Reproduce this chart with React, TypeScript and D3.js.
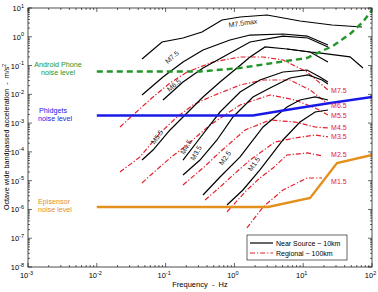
import React from 'react';
import * as d3 from 'd3';

const W = 378;
const H = 292;
const M = { left: 28, right: 6, top: 8, bottom: 25 };

// sensor noise levels
const androidFreq = [0.01, 0.316, 1.2, 3.64, 11.3, 27.1, 47.9, 74, 100];
const androidAcc = [0.062, 0.062, 0.082, 0.123, 0.183, 0.48, 1.25, 3.3, 8.5];
const phidgetsFreq = [0.01, 1.86, 5.09, 22.2, 100];
const phidgetsAcc = [0.00184, 0.00184, 0.00274, 0.0048, 0.0081];
const episensorFreq = [0.01, 3.08, 12.6, 31, 100];
const episensorAcc = [1.22e-6, 1.22e-6, 2.5e-6, 4.1e-5, 7.8e-5];

// near source (~10 km) spectra
const nsNames = ['M7.5max', 'M7.5', 'M6.5', 'M5.5', 'M4.5', 'M3.5', 'M2.5', 'M1.5'];
const nsFreq = [
  [0.0454, 0.0887, 0.179, 0.338, 0.661, 1.21, 2.98, 8.98, 26.2, 71.6],
  [0.0454, 0.0916, 0.179, 0.35, 0.863, 1.69, 5.08, 11.4, 22.9],
  [0.0916, 0.179, 0.35, 0.682, 1.69, 5.08, 11.7, 22.9],
  [0.0454, 0.0656, 0.116, 0.205, 0.35, 0.618, 1.09, 1.69, 2.79, 5.82, 12.6, 22.9],
  [0.179, 0.316, 0.618, 1.21, 2.35, 5.08, 11.4, 17.5, 22.9],
  [0.179, 0.316, 0.558, 0.955, 1.86, 3.29, 6.43, 11.7, 18.8, 22.9],
  [0.35, 0.618, 1.21, 2.61, 5.82, 8.98, 14.9, 22.9],
  [0.78, 1.33, 2.35, 5.08, 8.98, 14.9, 22.9],
];
const nsAcc = [
  [0.169, 0.659, 0.908, 1.47, 3.83, 4.87, 5.71, 3.53, 2.57, 2.19],
  [0.00948, 0.0401, 0.133, 0.347, 0.773, 1.15, 1.25, 1.06, 0.518],
  [0.00636, 0.0269, 0.0822, 0.198, 0.659, 1.06, 0.908, 0.442],
  [5.2e-5, 1.16e-4, 5.77e-4, 2.25e-3, 8.09e-3, 2.69e-2, 8.22e-2, 0.198, 0.442, 0.376, 0.296, 0.133],
  [5.2e-5, 3.04e-4, 2.43e-3, 1.21e-2, 3.15e-2, 5.97e-2, 7.01e-2, 4.01e-2, 2.69e-2],
  [1.57e-5, 5.2e-5, 2.59e-4, 1.63e-3, 8.09e-3, 1.66e-2, 3.7e-2, 4.7e-2, 3.15e-2, 2.29e-2],
  [3.18e-6, 1.34e-5, 6.7e-5, 7.33e-4, 3.63e-3, 6.36e-3, 8.09e-3, 6.36e-3],
  [1.43e-6, 4.74e-6, 2.35e-5, 2.59e-4, 1.09e-3, 2.43e-3, 2.86e-3],
];
// branch of the M5.5 near source curve that runs on to higher frequency
const nsBranchFreq = [5.82, 12.6, 15.9, 47.9, 74];
const nsBranchAcc = [0.376, 0.296, 0.28, 0.2, 0.0822];

// where the near source labels sit (freq, acc, angle)
const nsLabelFreq = [1.33, 0.124, 0.132, 0.075, 0.198, 0.277, 0.73, 1.93];
const nsLabelAcc = [3.01, 0.198, 0.0211, 3.3e-4, 1.48e-4, 9.2e-5, 6.1e-5, 3.8e-5];
const nsLabelAngle = [-8, -40, -40, -55, -60, -60, -55, -55];

// regional (~100 km) spectra
const rgNames = ['M7.5', 'M6.5', 'M5.5', 'M4.5', 'M3.5', 'M2.5', 'M1.5'];
const rgFreq = [
  [0.0217, 0.0336, 0.0656, 0.116, 0.205, 0.489, 1.21, 2.61, 5.08, 11.4, 22.9],
  [0.0217, 0.0425, 0.083, 0.147, 0.25, 0.442, 1.21, 2.61, 6.43, 12.6, 22.9],
  [0.0454, 0.0656, 0.116, 0.205, 0.442, 1.21, 3.29, 7.6, 14.9, 22.9],
  [0.179, 0.35, 0.618, 1.43, 3.29, 7.6, 14.9, 22.9],
  [0.374, 0.618, 0.955, 1.69, 3.89, 7.6, 14.9, 22.9],
  [0.78, 1.52, 2.35, 3.64, 5.82, 11.4, 19.4],
  [1.52, 2.61, 5.08, 11.4, 18.8],
];
const rgAcc = [
  [7.33e-4, 1.92e-3, 8.09e-3, 2.48e-2, 5.97e-2, 0.133, 0.198, 0.198, 0.156, 5.97e-2, 1.42e-2],
  [2.0e-5, 6.7e-5, 4.54e-4, 1.63e-3, 4.27e-3, 8.09e-3, 2.11e-2, 3.15e-2, 3.15e-2, 1.42e-2, 4.62e-3],
  [8.3e-6, 1.85e-5, 6.1e-5, 1.74e-4, 8.61e-4, 4.27e-3, 9.48e-3, 6.36e-3, 3.35e-3, 1.92e-3],
  [7.1e-6, 2.76e-5, 9.9e-5, 5.77e-4, 1.28e-3, 1.09e-3, 7.33e-4, 6.77e-4],
  [2.13e-6, 6.0e-6, 1.57e-5, 5.2e-5, 2.21e-4, 3.04e-4, 3.86e-4, 3.3e-4],
  [8.2e-7, 4.74e-6, 1.24e-5, 2.76e-5, 7.8e-5, 9.2e-5, 7.2e-5],
  [2.27e-7, 1.22e-6, 4.74e-6, 1.24e-5, 1.24e-5],
];
const rgLabelFreq = 25.4;
const rgLabelAcc = [0.0131, 3.94e-3, 1.77e-3, 6.77e-4, 3.3e-4, 7.8e-5, 9.0e-6];

const xExps = [-3, -2, -1, 0, 1, 2];
const yExps = [-8, -7, -6, -5, -4, -3, -2, -1, 0, 1];

const FONT = 'Liberation Sans, Arial, Helvetica, sans-serif';
const RED = '#e3202c';
const GREEN = '#23962a';
const BLUE = '#1a1ae6';
const ORANGE = '#e4901c';

const x = d3.scaleLog().domain([1e-3, 1e2]).range([M.left, W - M.right]);
const y = d3.scaleLog().domain([1e-8, 1e1]).range([H - M.bottom, M.top]);

const line = d3
  .line<[number, number]>()
  .x((d) => x(d[0]))
  .y((d) => y(d[1]));

const zip = (f: number[], a: number[]) => f.map((v, i) => [v, a[i]] as [number, number]);

function minorValues(exps: number[]) {
  const out: number[] = [];
  for (let i = 0; i < exps.length - 1; i++) {
    for (let k = 2; k <= 9; k++) out.push(k * Math.pow(10, exps[i]));
  }
  return out;
}

const App: React.FC = () => {
  const x0 = M.left;
  const x1 = W - M.right;
  const y0 = M.top;
  const y1 = H - M.bottom;

  return (
    <svg
      width={W}
      height={H}
      style={{ position: 'absolute', left: 0, top: 0, background: '#fff' }}
      fontFamily={FONT}
    >
      <defs>
        <clipPath id="plot">
          <rect x={x0} y={y0} width={x1 - x0} height={y1 - y0} />
        </clipPath>
      </defs>

      {/* ticks, all four sides, pointing in */}
      <g stroke="#000" strokeWidth={0.6}>
        {xExps.map((e) => (
          <g key={'xm' + e}>
            <line x1={x(10 ** e)} x2={x(10 ** e)} y1={y1} y2={y1 - 4} />
            <line x1={x(10 ** e)} x2={x(10 ** e)} y1={y0} y2={y0 + 4} />
          </g>
        ))}
        {minorValues(xExps).map((v, i) => (
          <g key={'xn' + i}>
            <line x1={x(v)} x2={x(v)} y1={y1} y2={y1 - 2} />
            <line x1={x(v)} x2={x(v)} y1={y0} y2={y0 + 2} />
          </g>
        ))}
        {yExps.map((e) => (
          <g key={'ym' + e}>
            <line y1={y(10 ** e)} y2={y(10 ** e)} x1={x0} x2={x0 + 4} />
            <line y1={y(10 ** e)} y2={y(10 ** e)} x1={x1} x2={x1 - 4} />
          </g>
        ))}
        {minorValues(yExps).map((v, i) => (
          <g key={'yn' + i}>
            <line y1={y(v)} y2={y(v)} x1={x0} x2={x0 + 2} />
            <line y1={y(v)} y2={y(v)} x1={x1} x2={x1 - 2} />
          </g>
        ))}
      </g>

      <g clipPath="url(#plot)" fill="none">
        {/* regional */}
        {rgNames.map((n, i) => (
          <path
            key={'rg' + n}
            d={line(zip(rgFreq[i], rgAcc[i])) || ''}
            stroke={RED}
            strokeWidth={1.2}
            strokeDasharray="5,2,1.2,2"
          />
        ))}
        {/* near source */}
        {nsNames.map((n, i) => (
          <path key={'ns' + n} d={line(zip(nsFreq[i], nsAcc[i])) || ''} stroke="#000" strokeWidth={1.2} />
        ))}
        <path d={line(zip(nsBranchFreq, nsBranchAcc)) || ''} stroke="#000" strokeWidth={1.2} />
        <path d={line(zip(episensorFreq, episensorAcc)) || ''} stroke={ORANGE} strokeWidth={2.4} />
        <path d={line(zip(phidgetsFreq, phidgetsAcc)) || ''} stroke={BLUE} strokeWidth={2.4} />
        <path
          d={line(zip(androidFreq, androidAcc)) || ''}
          stroke={GREEN}
          strokeWidth={2.4}
          strokeDasharray="6,4"
        />
      </g>

      <rect x={x0} y={y0} width={x1 - x0} height={y1 - y0} fill="none" stroke="#000" strokeWidth={0.7} />

      {/* curve labels */}
      {nsNames.map((n, i) => {
        const px = x(nsLabelFreq[i]);
        const py = y(nsLabelAcc[i]);
        return (
          <text
            key={'nl' + n}
            transform={`translate(${px},${py}) rotate(${nsLabelAngle[i]})`}
            textAnchor="middle"
            dy="0.35em"
            fontSize={7}
            fill="#222"
          >
            {n}
          </text>
        );
      })}
      {rgNames.map((n, i) => (
        <text key={'rl' + n} x={x(rgLabelFreq)} y={y(rgLabelAcc[i])} dy="0.35em" fontSize={7} fill={RED}>
          {n}
        </text>
      ))}

      {/* noise level labels */}
      <g fontSize={7.2} textAnchor="middle">
        <text x={58} y={y(0.062) - 5} fill={GREEN}>Android Phone</text>
        <text x={58} y={y(0.062) + 3} fill={GREEN}>noise level</text>
        <text x={53} y={y(0.00184) - 2} fill={BLUE}>Phidgets</text>
        <text x={55} y={y(0.00184) + 6} fill={BLUE}>noise level</text>
      </g>
      <g fontSize={7.2}>
        <text x={38} y={y(1.22e-6) - 3} fill={ORANGE}>Episensor</text>
        <text x={38} y={y(1.22e-6) + 5} fill={ORANGE}>noise level</text>
      </g>

      {/* tick labels */}
      {yExps.map((e) => (
        <text key={'yl' + e} x={x0 - 4} y={y(10 ** e) + 3} textAnchor="end" fontSize={7.5}>
          10
          <tspan dy={-3.5} fontSize={5.5}>
            {e}
          </tspan>
        </text>
      ))}
      {xExps.map((e) => (
        <text key={'xl' + e} x={x(10 ** e) - 1.5} y={y1 + 11} textAnchor="middle" fontSize={7.5}>
          10
          <tspan dy={-3.5} fontSize={5.5}>
            {e}
          </tspan>
        </text>
      ))}

      <text x={(x0 + x1) / 2} y={H - 5} textAnchor="middle" fontSize={7.5} style={{ whiteSpace: 'pre' }}>
        Frequency  -  Hz
      </text>
      <text transform={`translate(9,${137}) rotate(-90)`} textAnchor="middle" fontSize={7.2} style={{ whiteSpace: 'pre' }}>
        Octave wide bandpassed acceleration  -  m/s
        <tspan dy={-3} fontSize={5}>
          2
        </tspan>
      </text>

      {/* legend */}
      <g>
        <rect x={247} y={235} width={100} height={25} fill="#fff" stroke="#000" strokeWidth={0.6} />
        <line x1={250} x2={273} y1={243} y2={243} stroke="#000" strokeWidth={1.2} />
        <text x={276} y={245.5} fontSize={7}>Near Source ~ 10km</text>
        <line x1={250} x2={273} y1={253} y2={253} stroke={RED} strokeWidth={1.2} strokeDasharray="5,2,1.2,2" />
        <text x={276} y={255.5} fontSize={7}>Regional ~ 100km</text>
      </g>
    </svg>
  );
};

export default App;
